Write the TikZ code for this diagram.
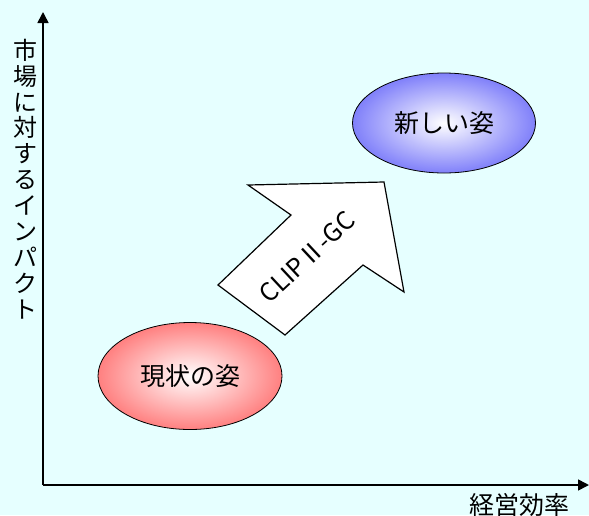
\documentclass[tikz,border=0pt]{standalone}
\usepackage{fontspec}
\setmainfont{Noto Sans CJK JP}
\usetikzlibrary{shapes.geometric,arrows.meta}
\definecolor{bgcol}{RGB}{230,255,255}
\definecolor{bluecol}{RGB}{128,128,250}
\definecolor{redcol}{RGB}{255,128,128}
\tikzset{
  axis/.style={line width=1.6pt,-{Triangle[length=11pt,width=11pt]}},
  blob/.style={ellipse,draw=black,line width=0.8pt,inner color=white,font=\fontsize{25}{27}\selectfont,inner sep=0pt},
  bigarrow/.style={draw=black,fill=white,line width=1.2pt,line join=miter},
  lbl/.style={font=\fontsize{25}{27}\selectfont,inner sep=0pt}
}
\begin{document}
\begin{tikzpicture}[x=1pt,y=1pt]
\fill[bgcol] (0,0) rectangle (589,-515);
\useasboundingbox (0,0) rectangle (589,-515);
\coordinate (o) at (43,-485);
\coordinate (ytip) at (43,-12);
\coordinate (xtip) at (589,-485);
\draw[axis] (o) -- (ytip);
\draw[axis] (o) -- (xtip);
\node[lbl,align=center,font=\fontsize{24}{25.9}\selectfont] (ylab) at (25,-179) {市\\場\\に\\対\\す\\る\\イ\\ン\\パ\\ク\\ト};
\node[lbl] (xlab) at (519,-505) {経営効率};
\node[blob,outer color=bluecol,minimum width=183pt,minimum height=100pt] (new) at (444,-123) {新しい姿};
\node[blob,outer color=redcol,minimum width=184pt,minimum height=107pt] (cur) at (190,-376) {現状の姿};
\draw[bigarrow] (248,-185) coordinate (a1) -- (384,-182) coordinate (a2) -- (404,-292) coordinate (a3) -- (363,-265) coordinate (a4) -- (285,-335) coordinate (a5) -- (218,-285) coordinate (a6) -- (291,-215) coordinate (a7) -- cycle;
\node[lbl,rotate=43,font=\fontsize{25}{27}\selectfont] (clip) at (307,-257) {CLIPⅡ-GC};
\end{tikzpicture}
\end{document}
